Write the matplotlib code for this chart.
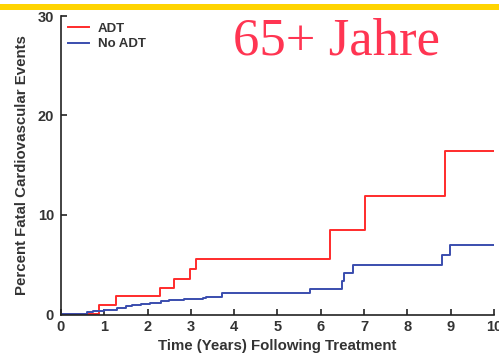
import matplotlib.pyplot as plt
from matplotlib.patches import Rectangle

# cumulative fatal cardiovascular events (%), step changes
adt_years = [0, 0.88, 1.28, 2.29, 2.61, 2.98, 3.12, 6.22, 7.03, 8.86, 10]
adt_pct = [0, 0.9, 1.8, 2.6, 3.5, 4.5, 5.5, 8.5, 11.9, 16.4, 16.4]

no_adt_years = [0, 0.6, 0.75, 1.0, 1.3, 1.5, 1.65, 1.85, 2.05, 2.3, 2.5, 2.85,
                3.27, 3.35, 3.72, 5.75, 6.49, 6.53, 6.74, 8.79, 8.98, 10]
no_adt_pct = [0, 0.2, 0.3, 0.45, 0.6, 0.8, 0.95, 1.05, 1.15, 1.3, 1.4, 1.5,
              1.6, 1.75, 2.1, 2.5, 3.3, 4.1, 4.9, 5.9, 6.9, 6.9]

x_ticks = list(range(0, 11))
y_ticks = [0, 10, 20, 30]

plt.rcParams['font.family'] = ['Liberation Sans', 'DejaVu Sans']

fig = plt.figure(figsize=(4.99, 3.57), dpi=100)
ax = fig.add_axes([0.1222, 0.1176, 0.8678, 0.8374])

# yellow strip across the top
fig.patches.append(Rectangle((0, 0.972), 1, 0.017, transform=fig.transFigure,
                             facecolor='#FFD400', edgecolor='none'))

ax.step(adt_years, adt_pct, where='post', color='#FF2B2B', lw=1.4, label='ADT')
ax.step(no_adt_years, no_adt_pct, where='post', color='#3A4DAE', lw=1.4, label='No ADT')

ax.set_xlim(0, 10)
ax.set_ylim(-0.1, 30)
ax.set_xticks(x_ticks)
ax.set_yticks(y_ticks)
ax.spines['top'].set_visible(False)
ax.spines['right'].set_visible(False)
for s in ('left', 'bottom'):
    ax.spines[s].set_linewidth(1.2)
    ax.spines[s].set_color('#222222')
ax.tick_params(direction='in', length=4, width=1.2, labelsize=10.5,
               labelcolor='#333333', color='#222222')
ax.tick_params(axis='y', pad=5)
for lbl in ax.get_xticklabels() + ax.get_yticklabels():
    lbl.set_fontweight('bold')

ax.set_xlabel('Time (Years) Following Treatment', fontsize=10.8,
              fontweight='bold', color='#333333', labelpad=4)
ax.set_ylabel('Percent Fatal Cardiovascular Events', fontsize=10.8,
              fontweight='bold', color='#333333', labelpad=6)

leg = ax.legend(loc='upper left', frameon=False, handlelength=1.6,
                handletextpad=0.7, labelspacing=0.25, borderaxespad=0.1,
                prop={'size': 9.5, 'weight': 'bold'})
for t in leg.get_texts():
    t.set_color('#333333')

fig.text(0.675, 0.885, '65+ Jahre', fontsize=38, color='#FF3552',
         family='Liberation Serif', ha='center', va='center')

fig.savefig('out.png', dpi=100)
